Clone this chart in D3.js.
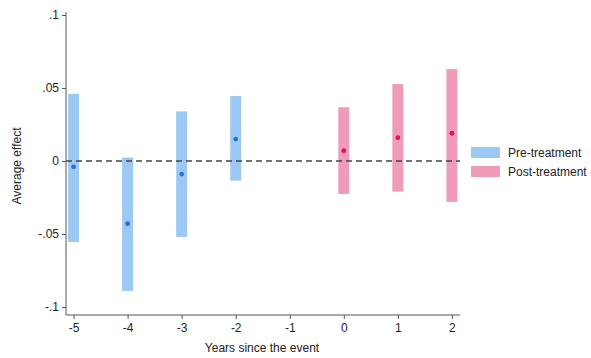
<!DOCTYPE html>
<html lang="en">
  <head>
    <meta charset="UTF-8" />
    <title>event study</title>
    <style>
      body { margin: 0; background: #fff; }
      text { font-family: "Liberation Sans", Arial, sans-serif; fill: #222; }
    </style>
  </head>
  <body>
    <svg width="591" height="358"></svg>
    <script src="https://cdn.jsdelivr.net/npm/d3@7/dist/d3.min.js"></script>
    <script>
      // years relative to event (-1 is the omitted reference year)
      var years = [-5, -4, -3, -2, 0, 1, 2];
      var estimates = [-0.004, -0.043, -0.009, 0.015, 0.007, 0.016, 0.019];
      var lower = [-0.0555, -0.089, -0.052, -0.0135, -0.0226, -0.021, -0.028];
      var upper = [0.046, 0.0023, 0.034, 0.0445, 0.0368, 0.0527, 0.063];
      var groups = ["pre", "pre", "pre", "pre", "post", "post", "post"];
      var xTicks = [-5, -4, -3, -2, -1, 0, 1, 2];
      var yTicks = [-0.1, -0.05, 0, 0.05, 0.1];
      var yTickLabels = ["-.1", "-.05", "0", ".05", ".1"];
      var legendLabels = ["Pre-treatment", "Post-treatment"];

      var barColor = { pre: "#9cc9f4", post: "#ee9cba" };
      var dotColor = { pre: "#2b6fd6", post: "#dc1458" };

      var svg = d3.select("svg");
      var x = d3.scaleLinear().domain([-5.14, 2.15]).range([66, 460]);
      var y = d3.scaleLinear().domain([-0.1055, 0.1]).range([315, 15]);

      var data = years.map(function(d, i) {
        return { year: d, est: estimates[i], lo: lower[i], hi: upper[i], g: groups[i] };
      });

      // confidence bars
      svg.selectAll("rect.ci").data(data).enter().append("rect")
        .attr("class", "ci")
        .attr("x", function(d) { return x(d.year) - 5.5; })
        .attr("width", 11)
        .attr("y", function(d) { return y(d.hi); })
        .attr("height", function(d) { return y(d.lo) - y(d.hi); })
        .attr("fill", function(d) { return barColor[d.g]; });

      // zero line
      svg.append("line")
        .attr("x1", 66).attr("x2", 460)
        .attr("y1", y(0)).attr("y2", y(0))
        .attr("stroke", "#444").attr("stroke-width", 1.4)
        .attr("stroke-dasharray", "6,4");

      // point estimates
      svg.selectAll("circle").data(data).enter().append("circle")
        .attr("cx", function(d) { return x(d.year); })
        .attr("cy", function(d) { return y(d.est); })
        .attr("r", 2.4)
        .attr("fill", function(d) { return dotColor[d.g]; });

      // axes
      var yAxis = svg.append("g").attr("transform", "translate(66,0)")
        .call(d3.axisLeft(y).tickValues(yTicks).tickSize(4).tickPadding(3)
          .tickFormat(function(d, i) { return yTickLabels[i]; }));
      yAxis.select(".domain").attr("d", "M0,12V315").attr("stroke", "#555");

      var xAxis = svg.append("g").attr("transform", "translate(0,315)")
        .call(d3.axisBottom(x).tickValues(xTicks).tickSize(4).tickPadding(4)
          .tickFormat(function(d) { return String(d); }));
      xAxis.select(".domain").attr("d", "M66,0H460").attr("stroke", "#555");

      svg.selectAll(".tick line").attr("stroke", "#555");
      svg.selectAll(".tick text").style("font-size", "12px").attr("fill", "#222")
        .attr("font-family", "Liberation Sans, Arial, sans-serif");

      svg.append("text")
        .attr("x", 262).attr("y", 352)
        .attr("text-anchor", "middle")
        .style("font-size", "12px")
        .text("Years since the event");

      svg.append("text")
        .attr("transform", "translate(21,166) rotate(-90)")
        .attr("text-anchor", "middle")
        .style("font-size", "12px")
        .text("Average effect");

      // legend
      var legend = svg.selectAll("g.leg").data(legendLabels).enter().append("g")
        .attr("class", "leg")
        .attr("transform", function(d, i) { return "translate(471," + (147 + i * 19) + ")"; });
      legend.append("rect").attr("width", 29).attr("height", 11)
        .attr("fill", function(d, i) { return i === 0 ? barColor.pre : barColor.post; });
      legend.append("text").attr("x", 37).attr("y", 10)
        .style("font-size", "12px")
        .text(function(d) { return d; });
    </script>
  </body>
</html>
